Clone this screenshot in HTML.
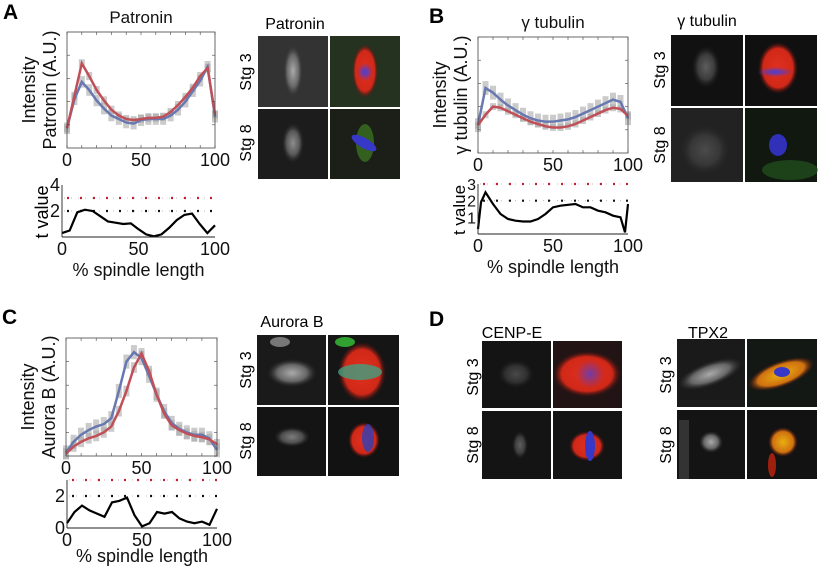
<!DOCTYPE html>
<html><head><meta charset="utf-8">
<style>
html,body{margin:0;padding:0;background:#fff;}
svg{display:block;font-family:"Liberation Sans",Arial,sans-serif;}
</style></head>
<body>
<svg id="fig" width="819" height="567" viewBox="0 0 819 567" xmlns="http://www.w3.org/2000/svg">
<defs>
<radialGradient id="gWhite" cx="50%" cy="50%" r="50%"><stop offset="0" stop-color="#aaa"/><stop offset="0.6" stop-color="#666"/><stop offset="1" stop-color="#2a2a2a" stop-opacity="0"/></radialGradient>
<radialGradient id="gRed" cx="50%" cy="50%" r="50%"><stop offset="0" stop-color="#e03020"/><stop offset="0.75" stop-color="#d02818"/><stop offset="1" stop-color="#501010" stop-opacity="0"/></radialGradient>
<radialGradient id="gBlue" cx="50%" cy="50%" r="50%"><stop offset="0" stop-color="#4040e0"/><stop offset="1" stop-color="#4040e0" stop-opacity="0"/></radialGradient>
<radialGradient id="gYel" cx="50%" cy="50%" r="50%"><stop offset="0" stop-color="#e8b010"/><stop offset="0.7" stop-color="#d07010"/><stop offset="1" stop-color="#501010" stop-opacity="0"/></radialGradient>
</defs>
<g id="panels"></g>
</svg>
<script>
// ---- data ----
const xs21 = [0,5,10,15,20,25,30,35,40,45,50,55,60,65,70,75,80,85,90,95,100];
const patroninRed  = [0.17,0.45,0.73,0.62,0.50,0.41,0.33,0.28,0.25,0.24,0.25,0.26,0.26,0.27,0.31,0.37,0.44,0.52,0.62,0.69,0.29];
const patroninBlue = [0.17,0.42,0.57,0.50,0.41,0.34,0.28,0.25,0.22,0.21,0.24,0.25,0.25,0.25,0.28,0.33,0.40,0.49,0.58,0.70,0.27];
const gtubBlue = [0.24,0.56,0.52,0.46,0.41,0.37,0.33,0.30,0.28,0.27,0.27,0.28,0.29,0.31,0.34,0.37,0.40,0.43,0.46,0.44,0.30];
const gtubRed  = [0.24,0.33,0.40,0.39,0.36,0.33,0.30,0.27,0.25,0.23,0.22,0.22,0.23,0.25,0.28,0.31,0.34,0.37,0.39,0.38,0.32];
const auroraBlue = [0.03,0.12,0.18,0.22,0.25,0.27,0.32,0.55,0.80,0.88,0.83,0.68,0.52,0.38,0.28,0.23,0.20,0.18,0.18,0.15,0.05];
const auroraRed  = [0.02,0.08,0.12,0.15,0.17,0.20,0.25,0.38,0.55,0.75,0.87,0.72,0.52,0.36,0.26,0.22,0.19,0.17,0.16,0.14,0.10];
const tA = [0.3,0.5,1.9,2.1,2.0,1.6,1.2,1.1,1.0,1.05,0.6,0.2,0.05,0.2,0.7,1.3,1.7,1.8,1.0,0.3,0.9];
const tBx = [0,2,5,10,15,20,25,30,35,40,45,50,55,60,65,70,75,80,85,90,95,98,100];
const tB = [0.3,1.9,2.5,1.8,1.2,0.9,0.8,0.75,0.75,0.9,1.2,1.6,1.7,1.75,1.8,1.6,1.6,1.4,1.3,1.1,1.0,0.1,1.8];
const tC = [0.3,1.0,1.4,1.1,0.9,0.7,1.6,1.7,1.9,0.8,0.1,0.3,1.0,0.9,1.0,0.6,0.4,0.3,0.4,0.2,1.2];
const xTicks = [0,50,100];

const NS="http://www.w3.org/2000/svg";
const root=document.getElementById('panels');
function mk(tag,attrs,parent){const e=document.createElementNS(NS,tag);for(const k in attrs)e.setAttribute(k,attrs[k]);(parent||root).appendChild(e);return e;}
function txt(s,x,y,size,extra,parent){const t=mk('text',Object.assign({x:x,y:y,'font-size':size,fill:'#111'},extra||{}),parent);t.textContent=s;return t;}

function profile(name,bx,by,bw,bh,xsArr,blue,red,errB,errR,title,ylab){
  const g=mk('g',{});
  
  
  const X=v=>bx+v/100*bw, Y=v=>by+bh-v*bh;
  [[blue,errB],[red,errR]].forEach(([arr,err])=>{
    for(let i=0;i<arr.length;i++){
      const l=mk('line',{x1:X(xsArr[i]),x2:X(xsArr[i]),y1:Y(arr[i]+err),y2:Y(arr[i]-err),stroke:'#a8a8a8','stroke-width':6,'stroke-opacity':0.6},g);
      
      
    }
  });
  [[blue,'#6878b0','blue-series'],[red,'#c05058','red-series']].forEach(([arr,col,nm])=>{
    const p=mk('polyline',{points:arr.map((v,i)=>X(xsArr[i])+','+Y(v)).join(' '),fill:'none',stroke:col,'stroke-width':2.5},g);
    
    
  });
  const fr=mk('rect',{x:bx,y:by,width:bw,height:bh,fill:'none',stroke:'#444','stroke-width':0.8},g);
  
  
  for(let v=0;v<=100;v+=10){mk('line',{x1:X(v),x2:X(v),y1:by+bh,y2:by+bh-3,stroke:'#444','stroke-width':0.6},g);mk('line',{x1:X(v),x2:X(v),y1:by,y2:by+3,stroke:'#444','stroke-width':0.6},g);}
  for(let k=1;k<5;k++){mk('line',{x1:bx,x2:bx+3,y1:by+bh*k/5,y2:by+bh*k/5,stroke:'#444','stroke-width':0.6},g);mk('line',{x1:bx+bw,x2:bx+bw-3,y1:by+bh*k/5,y2:by+bh*k/5,stroke:'#444','stroke-width':0.6},g);}
  xTicks.forEach(v=>{const t=txt(String(v),X(v),by+bh+18,18,{'text-anchor':'middle'},g);});
  const tt=txt(title,bx+bw/2,by-9,17,{'text-anchor':'middle'},g);
  
  
  const yl1=txt('Intensity',0,0,18,{'text-anchor':'middle',transform:`translate(${bx-32},${by+bh/2}) rotate(-90)`},g);
  
  
  const yl2=txt(ylab,0,0,18,{'text-anchor':'middle',transform:`translate(${bx-11},${by+bh/2}) rotate(-90)`},g);
  
  
}

function tplot(name,bx,by,bw,bh,ymax,xsArr,vals,yTicks,sigRed,sigBlack,tickFs,titleOff){
  const g=mk('g',{});
  
  
  const X=v=>bx+v/100*bw, Y=v=>by+bh-v/ymax*bh;
  [[sigRed,'#c02030'],[sigBlack,'#111']].forEach(([lv,col])=>{
    const l=mk('line',{x1:bx+2,x2:bx+bw,y1:Y(lv),y2:Y(lv),stroke:'#c8b8b8','stroke-width':1,'stroke-dasharray':'1,6'},g);
    
    
    mk('line',{x1:bx+5,x2:bx+bw,y1:Y(lv),y2:Y(lv),stroke:col,'stroke-width':2.2,'stroke-dasharray':'2,11'},g);
  });
  const p=mk('polyline',{points:vals.map((v,i)=>X(xsArr[i])+','+Y(v)).join(' '),fill:'none',stroke:'#000','stroke-width':2.2},g);
  
  
  mk('line',{x1:bx,x2:bx,y1:by,y2:by+bh,stroke:'#222','stroke-width':0.9},g);
  mk('line',{x1:bx,x2:bx+bw,y1:by+bh,y2:by+bh,stroke:'#222','stroke-width':0.9},g);
  yTicks.forEach(v=>{const t=txt(String(v),bx-2,Y(v)+6,tickFs,{'text-anchor':'end'},g);});
  xTicks.forEach(v=>{const t=txt(String(v),X(v),by+bh+18,18,{'text-anchor':'middle'},g);});
  const xl=txt('% spindle length',bx+bw/2,by+bh+titleOff,18,{'text-anchor':'middle'},g);
  
  
}

profile('patronin',67,32,148,116,xs21,patroninBlue,patroninRed,0.05,0.035,'Patronin','Patronin (A.U.)');
tplot('patronin',62,185,153,52,4,xs21,tA,[4,2],3,2,18,39);
profile('gamma-tubulin',478,37,150,116,xs21,gtubBlue,gtubRed,0.06,0.03,'γ tubulin','γ tubulin (A.U.)');
tplot('gamma-tubulin',478,184,150,50,3,tBx,tB,[3,2,1],3,2,16,39);
profile('aurora-b',66,338,151,118,xs21,auroraBlue,auroraRed,0.06,0.045,'','Aurora B (A.U.)');
tplot('aurora-b',67,480,150,48,3,xs21,tC,[2,0],3,2,18,34);
</script>
<svg width="819" height="567" style="position:absolute;left:0;top:0" xmlns="http://www.w3.org/2000/svg" font-family="Liberation Sans, Arial, sans-serif">
<text x="3" y="19" font-size="21" font-weight="bold">A</text>
<text x="429" y="23" font-size="21" font-weight="bold">B</text>
<text x="2" y="324" font-size="21" font-weight="bold">C</text>
<text x="429" y="326" font-size="21" font-weight="bold">D</text>
<text x="48" y="212" font-size="18" text-anchor="middle" transform="rotate(-90 48 212)">t value</text>
<text x="465" y="210" font-size="17" text-anchor="middle" transform="rotate(-90 465 210)">t value</text>

<text x="295" y="29" font-size="16" text-anchor="middle">Patronin</text>
<text x="251" y="72" font-size="16" text-anchor="middle" transform="rotate(-90 251 72)">Stg 3</text>
<text x="251" y="143" font-size="16" text-anchor="middle" transform="rotate(-90 251 143)">Stg 8</text>
<g>
<rect x="258" y="36" width="70" height="71" fill="#333"/><ellipse cx="293" cy="71" rx="10" ry="27" fill="url(#gWhite)"/>
<rect x="330" y="36" width="70" height="71" fill="#263220"/><ellipse cx="365" cy="71" rx="13" ry="27" fill="url(#gRed)"/><ellipse cx="365" cy="72" rx="8" ry="9" fill="url(#gBlue)"/>
<rect x="258" y="109" width="70" height="70" fill="#1c1c1c"/><ellipse cx="293" cy="143" rx="11" ry="20" fill="url(#gWhite)" opacity="0.8"/>
<rect x="330" y="109" width="70" height="70" fill="#1c1e18"/><ellipse cx="365" cy="143" rx="9" ry="19" fill="#3a7020" opacity="0.8"/><ellipse cx="364" cy="143" rx="14" ry="5" fill="#3838c8" transform="rotate(30 364 143)"/>
</g>

<text x="707" y="26" font-size="16" text-anchor="middle">γ tubulin</text>
<text x="665" y="70" font-size="16" text-anchor="middle" transform="rotate(-90 665 70)">Stg 3</text>
<text x="665" y="145" font-size="16" text-anchor="middle" transform="rotate(-90 665 145)">Stg 8</text>
<g>
<rect x="671" y="35" width="72" height="71" fill="#111"/><ellipse cx="706" cy="67" rx="14" ry="21" fill="url(#gWhite)" opacity="0.5"/>
<rect x="745" y="35" width="72" height="71" fill="#101010"/><ellipse cx="778" cy="68" rx="20" ry="26" fill="url(#gRed)"/><ellipse cx="775" cy="72" rx="18" ry="5" fill="url(#gBlue)"/>
<rect x="671" y="108" width="72" height="74" fill="#222"/><ellipse cx="705" cy="150" rx="25" ry="25" fill="url(#gWhite)" opacity="0.3"/>
<rect x="745" y="108" width="72" height="74" fill="#101810"/><ellipse cx="790" cy="170" rx="28" ry="10" fill="#2a6a20" opacity="0.5"/><ellipse cx="778" cy="145" rx="9" ry="11" fill="#3030b8"/>
</g>

<text x="292" y="327" font-size="16" text-anchor="middle">Aurora B</text>
<text x="251" y="370" font-size="16" text-anchor="middle" transform="rotate(-90 251 370)">Stg 3</text>
<text x="251" y="441" font-size="16" text-anchor="middle" transform="rotate(-90 251 441)">Stg 8</text>
<g>
<rect x="257" y="335" width="69" height="70" fill="#1a1a1a"/><ellipse cx="292" cy="373" rx="25" ry="14" fill="url(#gWhite)"/><ellipse cx="280" cy="342" rx="10" ry="5" fill="#777"/>
<rect x="328" y="335" width="71" height="70" fill="#151515"/><ellipse cx="362" cy="372" rx="24" ry="30" fill="url(#gRed)"/><ellipse cx="360" cy="372" rx="22" ry="8" fill="#40a080" opacity="0.8"/><ellipse cx="345" cy="342" rx="10" ry="5" fill="#30a030"/>
<rect x="257" y="407" width="69" height="69" fill="#141414"/><ellipse cx="292" cy="437" rx="18" ry="10" fill="url(#gWhite)" opacity="0.7"/>
<rect x="328" y="407" width="71" height="69" fill="#121212"/><ellipse cx="364" cy="440" rx="16" ry="18" fill="url(#gRed)"/><ellipse cx="368" cy="438" rx="6" ry="14" fill="#3040b8" opacity="0.8"/>
</g>

<text x="512" y="338" font-size="16" text-anchor="middle">CENP-E</text>
<text x="478" y="377" font-size="16" text-anchor="middle" transform="rotate(-90 478 377)">Stg 3</text>
<text x="478" y="445" font-size="16" text-anchor="middle" transform="rotate(-90 478 445)">Stg 8</text>
<g>
<rect x="482" y="341" width="69" height="67" fill="#141414"/><ellipse cx="516" cy="374" rx="18" ry="14" fill="url(#gWhite)" opacity="0.35"/>
<rect x="553" y="341" width="69" height="67" fill="#221414"/><ellipse cx="587" cy="374" rx="34" ry="23" fill="url(#gRed)"/><ellipse cx="590" cy="374" rx="14" ry="14" fill="url(#gBlue)" opacity="0.7"/>
<rect x="482" y="411" width="69" height="68" fill="#141414"/><ellipse cx="520" cy="445" rx="8" ry="14" fill="url(#gWhite)" opacity="0.5"/>
<rect x="553" y="411" width="69" height="68" fill="#141414"/><ellipse cx="587" cy="446" rx="18" ry="15" fill="url(#gRed)"/><ellipse cx="590" cy="446" rx="5" ry="15" fill="#3838c8"/>
</g>
<text x="708" y="338" font-size="16" text-anchor="middle">TPX2</text>
<text x="671" y="375" font-size="16" text-anchor="middle" transform="rotate(-90 671 375)">Stg 3</text>
<text x="671" y="445" font-size="16" text-anchor="middle" transform="rotate(-90 671 445)">Stg 8</text>
<g>
<rect x="677" y="339" width="68" height="68" fill="#1a1a1a"/><ellipse cx="710" cy="374" rx="34" ry="12" fill="url(#gWhite)" transform="rotate(-20 710 374)"/>
<rect x="747" y="339" width="70" height="68" fill="#141814"/><ellipse cx="781" cy="374" rx="35" ry="13" fill="url(#gYel)" transform="rotate(-20 781 374)"/><ellipse cx="782" cy="372" rx="8" ry="5" fill="#3838c8"/>
<rect x="677" y="410" width="68" height="69" fill="#141414"/><ellipse cx="711" cy="442" rx="12" ry="11" fill="url(#gWhite)"/><rect x="679" y="420" width="10" height="59" fill="#333"/>
<rect x="747" y="410" width="70" height="69" fill="#121212"/><ellipse cx="783" cy="442" rx="15" ry="15" fill="url(#gYel)"/><ellipse cx="772" cy="465" rx="4" ry="12" fill="#a02010"/>
</g>
</svg>
</body></html>
